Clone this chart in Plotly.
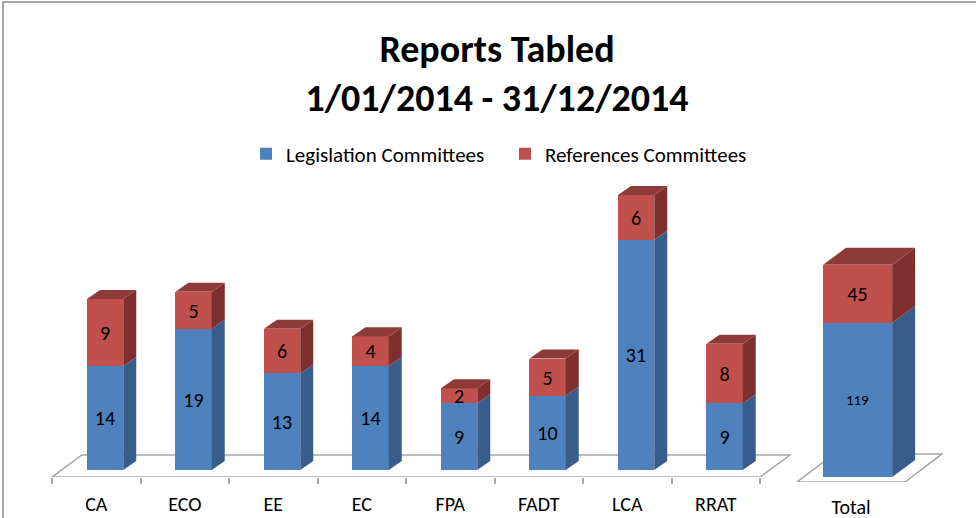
import plotly.graph_objects as go

committees = ["CA", "ECO", "EE", "EC", "FPA", "FADT", "LCA", "RRAT"]
legislation = [14, 19, 13, 14, 9, 10, 31, 9]
references = [9, 5, 6, 4, 2, 5, 6, 8]
total_label = ["Total"]
total_legislation = [119]
total_references = [45]

W, H = 976, 518
FONT = "Carlito, Lato, sans-serif"
BLUE, BLUE_SIDE = "#4F81BD", "#385D8A"
RED, RED_SIDE, RED_TOP = "#C0504D", "#7F302E", "#8E3A38"
FLOOR = "#A6A6A6"


def px_x(p):
    return p / W


def px_y(p):
    return 1 - p / H


def faces(fig, xs, lower, upper, x0off, width, dx, dy, xa, ya):
    # fake 3d: side face per segment and a top face on the upper segment
    for i, (lo, up) in enumerate(zip(lower, upper)):
        a = xs[i] + x0off
        b = a + width
        y1 = lo
        y2 = lo + up
        for ylo, yhi, col in [(0, y1, BLUE_SIDE), (y1, y2, RED_SIDE)]:
            fig.add_trace(go.Scatter(x=[b, b + dx, b + dx, b, b], y=[ylo, ylo + dy, yhi + dy, yhi, ylo],
                                     fill="toself", fillcolor=col, mode="lines", line=dict(width=0),
                                     hoverinfo="skip", showlegend=False, xaxis=xa, yaxis=ya))
        fig.add_trace(go.Scatter(x=[a, b, b + dx, a + dx, a], y=[y2, y2, y2 + dy, y2 + dy, y2],
                                 fill="toself", fillcolor=RED_TOP, mode="lines", line=dict(width=0),
                                 hoverinfo="skip", showlegend=False, xaxis=xa, yaxis=ya))


def label_font(size):
    return dict(size=size, color="black", family=FONT)


bar_text = dict(textposition="inside", insidetextanchor="middle", textangle=0, constraintext="none")

xs = list(range(len(committees)))
fig = go.Figure()

# main chart
fig.add_trace(go.Bar(x=xs, y=legislation, name="Legislation Committees", marker=dict(color=BLUE, line_width=0),
                     offset=-0.105, width=0.41, text=legislation, textfont=label_font(20), **bar_text))
fig.add_trace(go.Bar(x=xs, y=references, name="References Committees", marker=dict(color=RED, line_width=0),
                     offset=-0.105, width=0.41, text=references, textfont=label_font(20), **bar_text))
faces(fig, xs, legislation, references, -0.105, 0.41, 0.147, 1.21, "x", "y")

# total chart
fig.add_trace(go.Bar(x=[0], y=total_legislation, marker=dict(color=BLUE, line_width=0), showlegend=False,
                     offset=-0.259, width=0.64, text=total_legislation, textfont=label_font(15),
                     xaxis="x2", yaxis="y2", **bar_text))
fig.add_trace(go.Bar(x=[0], y=total_references, marker=dict(color=RED, line_width=0), showlegend=False,
                     offset=-0.259, width=0.64, text=total_references, textfont=label_font(20),
                     xaxis="x2", yaxis="y2", **bar_text))
faces(fig, [0], total_legislation, total_references, -0.259, 0.64, 0.213, 13.1, "x2", "y2")

n = len(committees)
shapes = [
    dict(type="path", xref="x", yref="y", layer="below", line=dict(color=FLOOR, width=1.5),
         path=f"M -0.5 -0.94 L {n - 0.5} -0.94 L {n - 0.5 + 0.339} 2.02 L -0.161 2.02 Z"),
    dict(type="path", xref="x2", yref="y2", layer="below", line=dict(color=FLOOR, width=1.5),
         path="M -0.5 -3.86 L 0.5 -3.86 L 0.843 17.8 L -0.157 17.8 Z"),
    dict(type="rect", xref="paper", yref="paper", x0=px_x(3), x1=1.2, y0=-0.2, y1=px_y(2),
         line=dict(color="#8C8C8C", width=1.5), layer="below"),
]

fig.update_layout(
    width=W, height=H, margin=dict(l=0, r=0, t=0, b=0),
    paper_bgcolor="white", plot_bgcolor="rgba(0,0,0,0)",
    barmode="stack", bargap=0, shapes=shapes,
    title=dict(text="<b>Reports Tabled<br>1/01/2014 - 31/12/2014</b>", x=px_x(497), y=px_y(62),
               xanchor="center", yanchor="middle", font=label_font(38)),
    legend=dict(orientation="h", x=px_x(246), y=px_y(154), xanchor="left", yanchor="middle",
                font=label_font(21), traceorder="normal", itemwidth=30, entrywidth=214),
    xaxis=dict(domain=[px_x(52), px_x(52 + 8.4 * 88.5)], range=[-0.5, 7.9], showgrid=False,
               zeroline=False, showline=False, tickvals=xs, ticktext=committees, ticks="",
               tickfont=label_font(20), ticklabelstandoff=13, automargin=False,
               minor=dict(tickvals=[i - 0.5 for i in range(n + 1)], ticks="outside", ticklen=6,
                          tickcolor=FLOOR, tickwidth=1.5, showgrid=False)),
    yaxis=dict(domain=[px_y(477), px_y(175)], range=[-0.94, 39.7], visible=False),
    xaxis2=dict(domain=[px_x(797), px_x(797 + 1.35 * 108)], range=[-0.5, 0.85], showgrid=False,
                zeroline=False, showline=False, tickvals=[0], ticktext=total_label, ticks="",
                tickfont=label_font(20), ticklabelstandoff=11, automargin=False, anchor="y2"),
    yaxis2=dict(domain=[px_y(482), px_y(175)], range=[-3.86, 233.4], visible=False, anchor="x2"),
)

fig.write_html("out.html", config={"displayModeBar": False},
               post_script="document.body.style.margin = '0';")
